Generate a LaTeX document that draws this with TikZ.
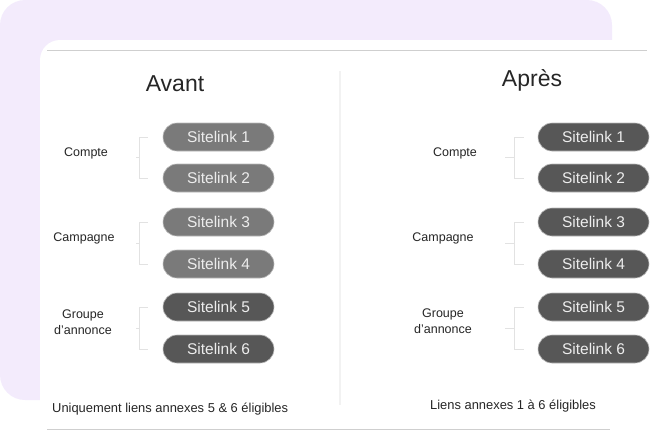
\documentclass[tikz,border=0pt]{standalone}
\usepackage{fontspec}
\setmainfont{Liberation Sans}
\usetikzlibrary{calc}
\definecolor{lav}{HTML}{F3EBFC}
\definecolor{pilllight}{HTML}{7A7A7A}
\definecolor{pilldark}{HTML}{575757}
\definecolor{pilltext}{HTML}{EDEDED}
\definecolor{rulec}{HTML}{CFCFCF}
\definecolor{brc}{HTML}{E2E2E2}
\definecolor{divc}{HTML}{F2F2F2}
\begin{document}
\begin{tikzpicture}[x=1pt,y=-1pt,
  pill/.style={rectangle, rounded corners=14pt, minimum width=111pt, minimum height=28pt, inner sep=0pt,
    draw=gray!55, line width=0.6pt, text=pilltext, font=\fontsize{15.5}{18}\selectfont},
  lightpill/.style={pill, fill=pilllight},
  darkpill/.style={pill, fill=pilldark},
  lab/.style={font=\fontsize{12.5}{16}\selectfont, text=black!85, align=center, inner sep=0pt},
  title/.style={font=\fontsize{23}{26}\selectfont, text=black!85, inner sep=0pt},
  foot/.style={font=\fontsize{12.9}{15}\selectfont, text=black!85, inner sep=0pt, anchor=west},
  br/.style={draw=brc, line width=0.9pt},
  rulel/.style={draw=rulec, line width=1pt}]
\useasboundingbox (0,0) rectangle (652,440);
% background shapes
\fill[lav, rounded corners=25pt] (0,0) rectangle (612,400);
\begin{scope}
  \clip (0,0) rectangle (652,440);
  \fill[white, rounded corners=20pt] (40,40) rectangle (690,480);
\end{scope}
\draw[rulel] (47,50) -- (647,50);
\draw[rulel] (47,429) -- (610,429);
\draw[draw=divc, line width=1.6pt] (340,71) -- (340,405);
% titles
\node[title] (tavant) at (175,84) {Avant};
\node[title] (tapres) at (532,80) {Après};
% left pills
\node[lightpill] (l1) at (218.5,137) {Sitelink 1};
\node[lightpill] (l2) at (218.5,178) {Sitelink 2};
\node[lightpill] (l3) at (218.5,222) {Sitelink 3};
\node[lightpill] (l4) at (218.5,264) {Sitelink 4};
\node[darkpill] (l5) at (218.5,307) {Sitelink 5};
\node[darkpill] (l6) at (218.5,349) {Sitelink 6};
% right pills
\node[darkpill] (r1) at (593.5,137) {Sitelink 1};
\node[darkpill] (r2) at (593.5,178) {Sitelink 2};
\node[darkpill] (r3) at (593.5,222) {Sitelink 3};
\node[darkpill] (r4) at (593.5,264) {Sitelink 4};
\node[darkpill] (r5) at (593.5,307) {Sitelink 5};
\node[darkpill] (r6) at (593.5,349) {Sitelink 6};
% left labels
\node[lab] (lc) at (86,153) {Compte};
\node[lab] (lk) at (84,238) {Campagne};
\node[lab] (lg) at (83,322) {Groupe\\d’annonce};
% right labels
\node[lab] (rc) at (455,153) {Compte};
\node[lab] (rk) at (443,238) {Campagne};
\node[lab] (rg) at (443,321) {Groupe\\d’annonce};
% brackets left
\foreach \a/\b in {l1/l2,l3/l4,l5/l6}{
  \draw[br] ([xshift=-15pt]\a.west) -- ([xshift=-23pt]\a.west) -- ([xshift=-23pt]\b.west) -- ([xshift=-15pt]\b.west);
  \draw[br] ($(\a.west)!0.5!(\b.west)+(-23,0)$) -- ++(-4,0);
}
% brackets right
\foreach \a/\b in {r1/r2,r3/r4,r5/r6}{
  \draw[br] ([xshift=-14pt]\a.west) -- ([xshift=-23pt]\a.west) -- ([xshift=-23pt]\b.west) -- ([xshift=-14pt]\b.west);
  \draw[br] ($(\a.west)!0.5!(\b.west)+(-23,0)$) -- ++(-10,0);
}
% footers
\node[foot] (fl) at (52,409) {Uniquement liens annexes 5 \& 6 éligibles};
\node[foot] (fr) at (430,406) {Liens annexes 1 à 6 éligibles};
\end{tikzpicture}
\end{document}
